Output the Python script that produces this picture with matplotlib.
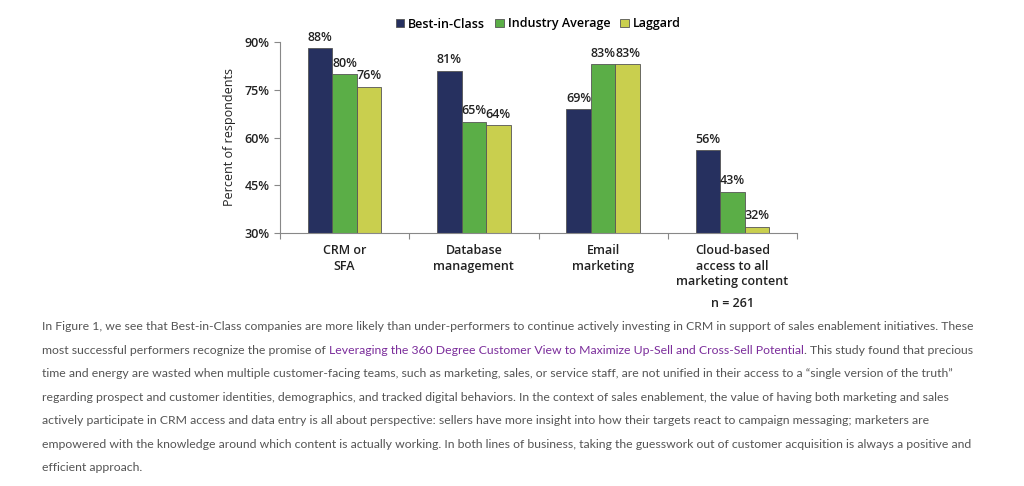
import matplotlib.pyplot as plt
import numpy as np

plt.rcParams['font.family'] = 'Open Sans'

# data
categories = ['CRM or\nSFA', 'Database\nmanagement', 'Email\nmarketing',
              'Cloud-based\naccess to all\nmarketing content']
series_names = ['Best-in-Class', 'Industry Average', 'Laggard']
best = [88, 81, 69, 56]
industry = [80, 65, 83, 43]
laggard = [76, 64, 83, 32]
colors = ['#26305f', '#5bae47', '#c9cf4e']
yticks = [30, 45, 60, 75, 90]

paragraph = [
    "In Figure 1, we see that Best-in-Class companies are more likely than under-performers to continue actively investing in CRM in support of sales enablement initiatives. These",
    ["most successful performers recognize the promise of ",
     "Leveraging the 360 Degree Customer View to Maximize Up-Sell and Cross-Sell Potential",
     ". This study found that precious"],
    "time and energy are wasted when multiple customer-facing teams, such as marketing, sales, or service staff, are not unified in their access to a \u201csingle version of the truth\u201d",
    "regarding prospect and customer identities, demographics, and tracked digital behaviors. In the context of sales enablement, the value of having both marketing and sales",
    "actively participate in CRM access and data entry is all about perspective: sellers have more insight into how their targets react to campaign messaging; marketers are",
    "empowered with the knowledge around which content is actually working. In both lines of business, taking the guesswork out of customer acquisition is always a positive and",
    "efficient approach.",
]

fig = plt.figure(figsize=(10.24, 4.86), dpi=100)
ax = fig.add_axes([280 / 1024, 1 - 233 / 486, 517 / 1024, 191 / 486])

x = np.arange(len(categories)) + 0.5
w = 0.19
for i, (vals, name, c) in enumerate(zip([best, industry, laggard], series_names, colors)):
    bars = ax.bar(x + (i - 1) * w, vals, w, bottom=0, color=c, edgecolor='#555555',
                  linewidth=0.6, label=name)
    ax.bar_label(bars, labels=[f'{v}%' for v in vals], padding=3, fontsize=9,
                 color='#222222', fontweight='semibold', clip_on=False)

ax.set_ylim(30, 90)
ax.set_xlim(0, 4)
ax.set_yticks(yticks)
ax.set_yticklabels([f'{t}%' for t in yticks], fontsize=9, color='#222222',
                   fontweight='semibold')
ax.set_xticks(np.arange(5))
ax.set_xticklabels([])
ax.set_xticks(x, minor=True)
ax.set_xticklabels(categories, minor=True, fontsize=9, color='#222222',
                   fontweight='semibold', linespacing=1.25)
ax.tick_params(axis='x', which='minor', length=0, pad=8)
ax.tick_params(axis='x', which='major', length=4, color='#888888')
ax.tick_params(axis='y', length=4, color='#888888')
for s in ['top', 'right']:
    ax.spines[s].set_visible(False)
for s in ['left', 'bottom']:
    ax.spines[s].set_color('#888888')
ax.set_ylabel('Percent of respondents', fontsize=9, color='#222222', labelpad=6,
              fontweight='medium')
ax.text(3.5, -0.335, 'n = 261', transform=ax.get_xaxis_transform(), ha='center',
        va='top', fontsize=9, fontweight='semibold', color='#222222')

fig.legend(loc='center', bbox_to_anchor=(538 / 1024, 1 - 24 / 486), ncol=3,
           frameon=False, handlelength=0.7, handleheight=0.7,
           handletextpad=0.3, columnspacing=0.8,
           prop={'weight': 'semibold', 'size': 9})

# paragraph below the chart, sized to the same line width as the page
body_font = 'Lato'
renderer = fig.canvas.get_renderer()


def text_width(s, size):
    # trailing spaces are not counted by the extent, so pad with a marker
    t = fig.text(0, 0, s + '|', fontsize=size, family=body_font)
    m = fig.text(0, 0, '|', fontsize=size, family=body_font)
    wd = t.get_window_extent(renderer).width - m.get_window_extent(renderer).width
    t.remove()
    m.remove()
    return wd


fs = 9.6
fs = fs * 935 / text_width(paragraph[0], fs)

text_color = '#555555'
link_color = '#7b2d9b'
y0 = 327
for k, line in enumerate(paragraph):
    y = 1 - (y0 + k * 23.4) / 486
    if isinstance(line, str):
        fig.text(42 / 1024, y, line, fontsize=fs, family=body_font, color=text_color,
                 va='center')
    else:
        xpos = 42
        for j, part in enumerate(line):
            fig.text(xpos / 1024, y, part, fontsize=fs, family=body_font,
                     color=link_color if j == 1 else text_color, va='center')
            xpos += text_width(part, fs)

fig.savefig('out.png', dpi=100, facecolor='white')
